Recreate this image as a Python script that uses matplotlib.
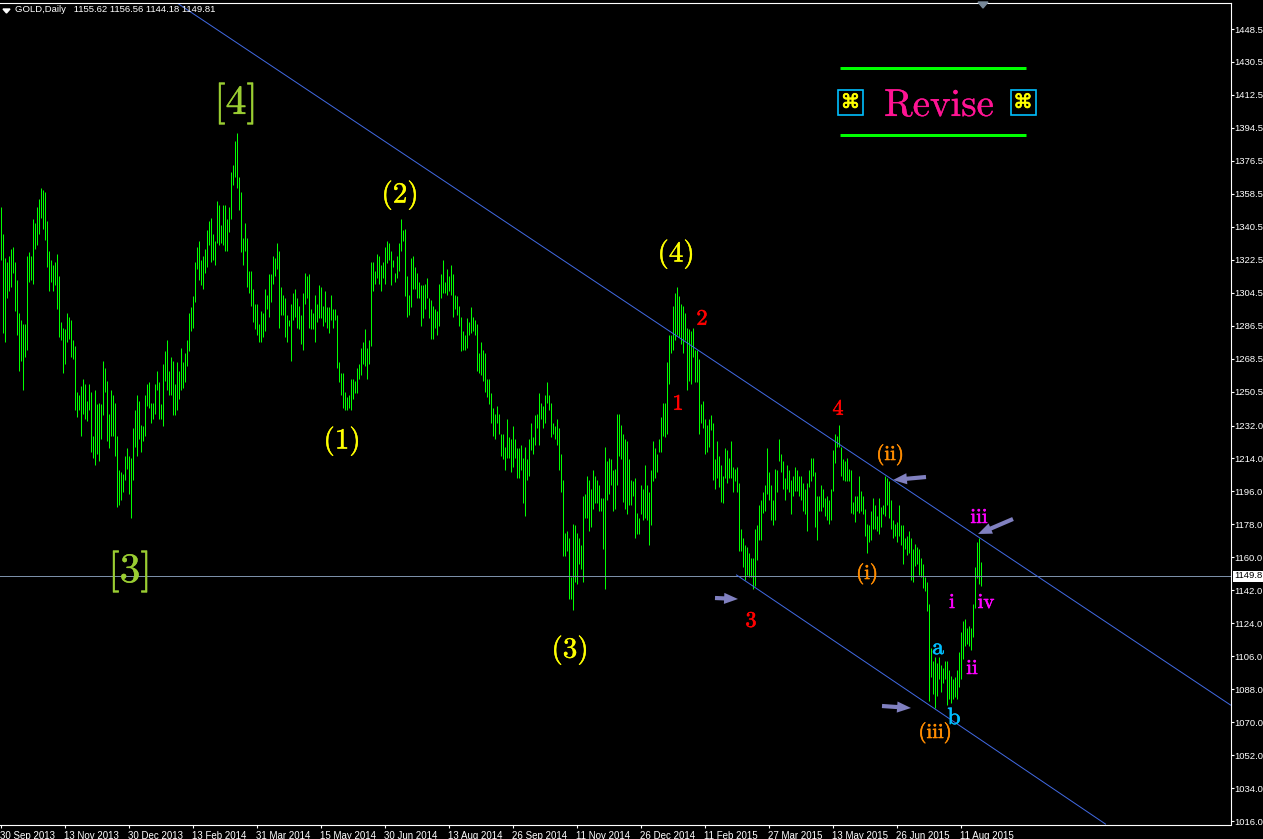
import numpy as np
import matplotlib
matplotlib.use('Agg')
import matplotlib.pyplot as plt
import matplotlib.patheffects as pe
from matplotlib.patches import Rectangle, Polygon

# last bar of the chart, also the header values
OHLC_LAST = ['1155.62', '1156.56', '1144.18', '1149.81']
BID = 1149.81
READ_SHIFT = 0.5  # highs/lows below were read half a point low

# daily highs / lows, one per bar
highs = [
    1351, 1336, 1323, 1321, 1324, 1328, 1329, 1321, 1311, 1293, 1289, 1287, 1287, 1324, 1326, 1324, 1344, 1342, 1351, 1355,
    1361, 1360, 1359, 1343, 1327, 1322, 1319, 1321, 1325, 1313, 1288, 1285, 1284, 1293, 1291, 1289, 1278, 1275, 1250, 1248,
    1253, 1257, 1254, 1245, 1254, 1250, 1226, 1251, 1243, 1244, 1243, 1267, 1263, 1256, 1238, 1251, 1248, 1244, 1226, 1207,
    1206, 1205, 1215, 1219, 1215, 1214, 1230, 1240, 1248, 1245, 1232, 1231, 1248, 1254, 1255, 1244, 1244, 1254, 1261, 1255,
    1243, 1265, 1272, 1278, 1261, 1269, 1267, 1254, 1266, 1261, 1274, 1266, 1271, 1278, 1293, 1296, 1302, 1321, 1329, 1332,
    1322, 1324, 1328, 1338, 1343, 1345, 1336, 1332, 1354, 1352, 1341, 1352, 1352, 1344, 1351, 1370, 1374, 1387, 1391, 1367,
    1359, 1334, 1342, 1334, 1316, 1316, 1306, 1298, 1298, 1287, 1294, 1293, 1306, 1303, 1314, 1314, 1324, 1323, 1331, 1327,
    1307, 1303, 1301, 1292, 1289, 1298, 1304, 1306, 1301, 1297, 1292, 1304, 1315, 1313, 1314, 1295, 1293, 1303, 1298, 1308,
    1307, 1297, 1305, 1296, 1296,
    1303, 1295, 1295, 1292, 1266, 1260, 1260, 1250, 1247, 1248, 1257, 1257, 1256, 1263, 1265, 1274, 1277, 1284, 1274, 1278,
    1321, 1321, 1316, 1325, 1324, 1319, 1321, 1329, 1332, 1331, 1327, 1322, 1315, 1324, 1331, 1344, 1338, 1339, 1313, 1303,
    1323, 1324, 1318, 1315, 1310, 1308, 1308, 1309, 1312, 1301, 1300, 1297, 1295, 1294, 1309, 1314, 1322, 1310, 1317, 1313,
    1319, 1314, 1303, 1302, 1297, 1291, 1283, 1281, 1290, 1288, 1296, 1291, 1289, 1287, 1271, 1277, 1273, 1271, 1257, 1257,
    1249, 1241, 1238, 1242, 1238, 1227, 1227, 1220, 1235, 1225, 1224, 1231, 1224, 1219, 1219, 1221, 1214, 1220, 1213, 1224,
    1233, 1225, 1237, 1238, 1249, 1244, 1242, 1248, 1255, 1248, 1244, 1233, 1231, 1235, 1230, 1216, 1202, 1173, 1174, 1170,
    1149, 1178, 1177, 1173, 1170, 1166, 1193, 1194, 1204, 1202, 1197, 1207, 1204, 1202, 1199, 1192, 1192, 1220, 1212, 1214,
    1213, 1207, 1208, 1238, 1238, 1232, 1227, 1224, 1223, 1213, 1202, 1201, 1203, 1184, 1181, 1199, 1197, 1210, 1199, 1195,
    1207, 1223, 1219, 1216, 1224, 1236, 1244, 1244, 1266, 1281, 1281, 1297, 1304, 1307, 1302, 1298, 1297, 1293, 1285, 1284,
    1283, 1285, 1273, 1273, 1268, 1243, 1245, 1235, 1232, 1235, 1237, 1233, 1213, 1223, 1215, 1210, 1204, 1219, 1218, 1214,
    1223, 1209, 1208, 1209, 1200, 1175, 1170, 1166, 1165, 1162, 1159, 1159, 1175, 1177, 1188, 1191, 1195, 1199, 1219, 1206,
    1199, 1191, 1208, 1207, 1224, 1216, 1212, 1203, 1210, 1207, 1202, 1204, 1209, 1207, 1204, 1204, 1200, 1197, 1200, 1207,
    1214, 1214, 1206, 1193, 1193, 1199, 1197, 1192, 1193, 1191, 1197, 1218, 1227, 1226, 1232, 1220, 1213, 1212, 1214, 1208,
    1207, 1190, 1193, 1193, 1204, 1196, 1193, 1186, 1178, 1177, 1185, 1192, 1188, 1182, 1192, 1187, 1188, 1204, 1203, 1201,
    1191, 1180, 1178, 1179, 1188, 1177, 1177, 1170, 1171, 1174, 1170, 1164, 1167, 1165, 1164, 1159, 1156, 1149, 1146, 1134,
    1110, 1103, 1105, 1102, 1105, 1101, 1099, 1103, 1103, 1098, 1095, 1093, 1094, 1098, 1108, 1119, 1125, 1126, 1121, 1122,
    1121, 1134, 1154, 1168, 1170, 1157,
]
lows = [
    1322, 1282, 1277, 1301, 1305, 1307, 1315, 1294, 1281, 1261, 1267, 1251, 1269, 1273, 1310, 1311, 1309, 1328, 1330, 1336,
    1345, 1339, 1333, 1318, 1305, 1310, 1305, 1308, 1295, 1280, 1278, 1260, 1265, 1277, 1279, 1269, 1268, 1240, 1236, 1240,
    1226, 1238, 1235, 1234, 1240, 1217, 1214, 1210, 1216, 1212, 1224, 1237, 1250, 1223, 1219, 1226, 1226, 1215, 1187, 1188,
    1191, 1195, 1202, 1208, 1194, 1181, 1202, 1220, 1215, 1224, 1217, 1223, 1226, 1242, 1241, 1233, 1235, 1238, 1251, 1235,
    1235, 1231, 1256, 1251, 1248, 1248, 1237, 1237, 1240, 1246, 1251, 1252, 1255, 1264, 1272, 1283, 1285, 1299, 1317, 1311,
    1308, 1306, 1315, 1318, 1330, 1321, 1322, 1319, 1331, 1330, 1331, 1330, 1327, 1327, 1337, 1344, 1363, 1367, 1361, 1349,
    1326, 1319, 1327, 1307, 1304, 1297, 1288, 1284, 1281, 1277, 1277, 1280, 1283, 1295, 1291, 1299, 1309, 1313, 1317, 1285,
    1292, 1292, 1280, 1277, 1286, 1267, 1289, 1291, 1285, 1284, 1276, 1273, 1298, 1301, 1285, 1284, 1284, 1277, 1288, 1290,
    1290, 1286, 1288, 1285, 1282,
    1289, 1285, 1289, 1263, 1255, 1248, 1241, 1240, 1240, 1241, 1240, 1246, 1249, 1249, 1257, 1259, 1265, 1264, 1257, 1265,
    1275, 1305, 1309, 1312, 1309, 1305, 1312, 1309, 1320, 1322, 1308, 1318, 1310, 1312, 1316, 1327, 1332, 1302, 1291, 1292,
    1296, 1306, 1306, 1301, 1301, 1286, 1290, 1295, 1301, 1290, 1279, 1279, 1285, 1281, 1286, 1301, 1304, 1304, 1303, 1305,
    1303, 1291, 1295, 1292, 1286, 1272, 1273, 1273, 1274, 1281, 1282, 1283, 1281, 1261, 1260, 1259, 1256, 1250, 1247, 1243,
    1233, 1226, 1224, 1233, 1227, 1215, 1213, 1207, 1214, 1214, 1206, 1209, 1214, 1203, 1203, 1207, 1189, 1182, 1202, 1204,
    1218, 1216, 1221, 1230, 1221, 1235, 1230, 1233, 1244, 1240, 1225, 1227, 1224, 1221, 1207, 1195, 1160, 1160, 1163, 1137,
    1137, 1131, 1146, 1145, 1156, 1153, 1146, 1181, 1181, 1174, 1176, 1186, 1189, 1189, 1185, 1185, 1164, 1142, 1191, 1194,
    1199, 1185, 1186, 1199, 1215, 1213, 1190, 1186, 1183, 1188, 1188, 1193, 1170, 1172, 1172, 1183, 1180, 1181, 1180, 1166,
    1177, 1201, 1203, 1206, 1217, 1217, 1226, 1225, 1227, 1254, 1271, 1273, 1278, 1281, 1280, 1276, 1271, 1278, 1251, 1256,
    1254, 1269, 1255, 1255, 1227, 1233, 1230, 1216, 1217, 1220, 1229, 1202, 1197, 1203, 1198, 1190, 1189, 1203, 1200, 1203,
    1203, 1195, 1201, 1195, 1163, 1163, 1154, 1147, 1150, 1149, 1149, 1142, 1144, 1158, 1169, 1169, 1184, 1185, 1194, 1191,
    1180, 1177, 1180, 1195, 1212, 1206, 1197, 1191, 1197, 1195, 1183, 1193, 1196, 1196, 1193, 1191, 1185, 1183, 1174, 1198,
    1201, 1204, 1176, 1169, 1185, 1185, 1187, 1182, 1180, 1178, 1180, 1196, 1211, 1220, 1220, 1204, 1202, 1201, 1201, 1201,
    1184, 1183, 1179, 1185, 1184, 1185, 1183, 1171, 1162, 1168, 1169, 1175, 1175, 1174, 1172, 1176, 1183, 1182, 1188, 1181,
    1175, 1170, 1171, 1168, 1171, 1166, 1156, 1164, 1161, 1162, 1147, 1146, 1155, 1156, 1150, 1149, 1143, 1141, 1130, 1081,
    1094, 1085, 1077, 1084, 1093, 1086, 1091, 1093, 1079, 1082, 1080, 1082, 1083, 1082, 1089, 1093, 1104, 1111, 1112, 1111,
    1109, 1116, 1132, 1148, 1145, 1144,
]

date_labels = ['30 Sep 2013', '13 Nov 2013', '30 Dec 2013', '13 Feb 2014', '31 Mar 2014', '15 May 2014',
               '30 Jun 2014', '13 Aug 2014', '26 Sep 2014', '11 Nov 2014', '26 Dec 2014', '11 Feb 2015',
               '27 Mar 2015', '13 May 2015', '26 Jun 2015', '11 Aug 2015']
BARS_PER_LABEL = 32

# labels end at the image edge in the original, so one decimal is all that shows
price_labels = ['1448.5', '1430.5', '1412.5', '1394.5', '1376.5', '1358.5', '1340.5', '1322.5', '1304.5', '1286.5',
                '1268.5', '1250.5', '1232.0', '1214.0', '1196.0', '1178.0', '1160.0', '1142.0', '1124.0', '1106.0',
                '1088.0', '1070.0', '1052.0', '1034.0', '1016.0']

# channel lines as (bar, price) pairs
upper_line = ([89, 615], [1462.2, 1079.4])
lower_line = ([368, 552.5], [1150.4, 1014.4])

# wave labels: text, pixel x, pixel y, colour, size, stroke
BIG = '#9acd32'
wave_labels = [
    ('[4]', 236, 103, BIG, 30, 0.25), ('[3]', 130, 571, BIG, 30, 0.25),
    ('(1)', 342, 441, 'yellow', 21, 0.3), ('(2)', 400, 195, 'yellow', 21, 0.3),
    ('(3)', 570, 650, 'yellow', 21, 0.3), ('(4)', 676, 254, 'yellow', 21, 0.3),
    ('1', 678, 404, 'red', 16, 0.4), ('2', 702, 319, 'red', 16, 0.4),
    ('3', 751, 621, 'red', 16, 0.4), ('4', 838, 409, 'red', 16, 0.4),
    ('(i)', 867, 574, '#ff8c00', 15, 0.4), ('(ii)', 890, 455, '#ff8c00', 15, 0.4), ('(iii)', 935, 733, '#ff8c00', 15, 0.4),
    ('i', 952, 603, 'magenta', 15, 0.4), ('ii', 972, 669, 'magenta', 15, 0.4),
    ('iii', 979, 518, 'magenta', 15, 0.4), ('iv', 986, 603, 'magenta', 15, 0.4),
    ('a', 938, 648, '#00bfff', 17, 0.4), ('b', 954, 718, '#00bfff', 17, 0.4),
]
# arrows: tail x, tail y, tip x, tip y
arrows = [(926, 477, 893, 480), (1013, 519, 978, 534), (715, 598, 738, 599), (882, 706, 911, 708)]

W, H = 1263, 839
fig = plt.figure(figsize=(W / 100, H / 100), dpi=100, facecolor='black')

# main chart area, right axis at x=1230, bottom axis at y=824, top line at y=2
ax = fig.add_axes([0, 1 - 824.5 / H, 1230.5 / W, (824.5 - 2.5) / H], facecolor='black')
ax.set_xlim(-0.25, 615)
ax.set_ylim(1448.5 - (824.5 - 29) * 0.546, 1448.5 + (29 - 2.5) * 0.546)

x = np.arange(len(highs))
bars = ax.vlines(x, np.array(lows) + READ_SHIFT, np.array(highs) + READ_SHIFT, color='#00ff00', linewidth=0.72)
bars.set_snap(True)
ax.axhline(BID, color='#7b8fa8', linewidth=0.72)
ax.plot(*upper_line, color='#4169e1', linewidth=0.72)
ax.plot(*lower_line, color='#4169e1', linewidth=0.72)

ax.spines['left'].set_visible(False)
for side in ['top', 'bottom', 'right']:
    ax.spines[side].set_color('white')
    ax.spines[side].set_linewidth(0.8)

ax.yaxis.tick_right()
ax.set_yticks([float(p) for p in price_labels])
ax.set_yticklabels(price_labels)
ax.set_xticks(np.arange(len(date_labels)) * BARS_PER_LABEL)
ax.set_xticklabels(date_labels, ha='left')
ax.tick_params(axis='y', colors='white', length=2, width=0.8, pad=0.8, labelsize=6.8, labelfontfamily='Liberation Sans')
ax.tick_params(axis='x', colors='white', length=2.2, width=0.8, pad=2.2, labelsize=7, labelfontfamily='Liberation Sans')

# overlay in pixel coordinates for the drawn objects
ov = fig.add_axes([0, 0, 1, 1], facecolor='none')
ov.set_xlim(0, W)
ov.set_ylim(H, 0)
ov.axis('off')

ov.text(15, 10, 'GOLD,Daily   ' + ' '.join(OHLC_LAST), color='white', fontsize=6.8,
        family='Liberation Sans', va='center')
ov.add_patch(Polygon([(3, 9), (10, 9), (6.5, 13)], color='white'))
ov.add_patch(Polygon([(978, 2), (988, 2), (983, 8)], color='#778899'))

# bid label on the price axis
ov.add_patch(Rectangle((1233, 570.5), 31, 11, color='white', linewidth=0))
ov.text(1234.5, 576, '1149.8', color='black', fontsize=6.8, family='Liberation Sans', va='center')

for txt, px, py, col, size, stroke in wave_labels:
    ov.text(px, py, txt, color=col, fontsize=size, family='cmr10', ha='center', va='center',
            path_effects=[pe.withStroke(linewidth=stroke, foreground=col)])

for x0, y0, x1, y1 in arrows:
    ov.annotate('', xy=(x1, y1), xytext=(x0, y0),
                arrowprops=dict(arrowstyle='simple,head_length=1.0,head_width=0.8,tail_width=0.3',
                                color='#8080c0', shrinkA=0, shrinkB=0, linewidth=0))

# "Revise" banner
ov.plot([839.5, 1025.5], [68.3, 68.3], color='#00ff00', linewidth=2.16, solid_capstyle='butt')
ov.plot([839.5, 1025.5], [135.3, 135.3], color='#00ff00', linewidth=2.16, solid_capstyle='butt')
ov.text(939, 106, 'Revise', color='#ff1493', fontsize=28, family='cmr10', ha='center', va='center',
        path_effects=[pe.withStroke(linewidth=0.2, foreground='#ff1493')])
for bx in [838, 1010.5]:
    ov.add_patch(Rectangle((bx, 90), 25, 25, fill=False, edgecolor='#00bfff', linewidth=1.2))
    ov.text(bx + 12.5, 102.5, '\u2318', color='yellow', fontsize=14, family='DejaVu Sans', ha='center', va='center',
            path_effects=[pe.withStroke(linewidth=0.5, foreground='yellow')])

fig.savefig('out.png', dpi=100, facecolor='black')

# bars should stay pure green after saving
row = plt.imread('out.png')[300, 0:300, :3]
assert row[:, 0].max() == 0 and row[:, 2].max() == 0, str((row[:12] * 255).astype(int).tolist())
